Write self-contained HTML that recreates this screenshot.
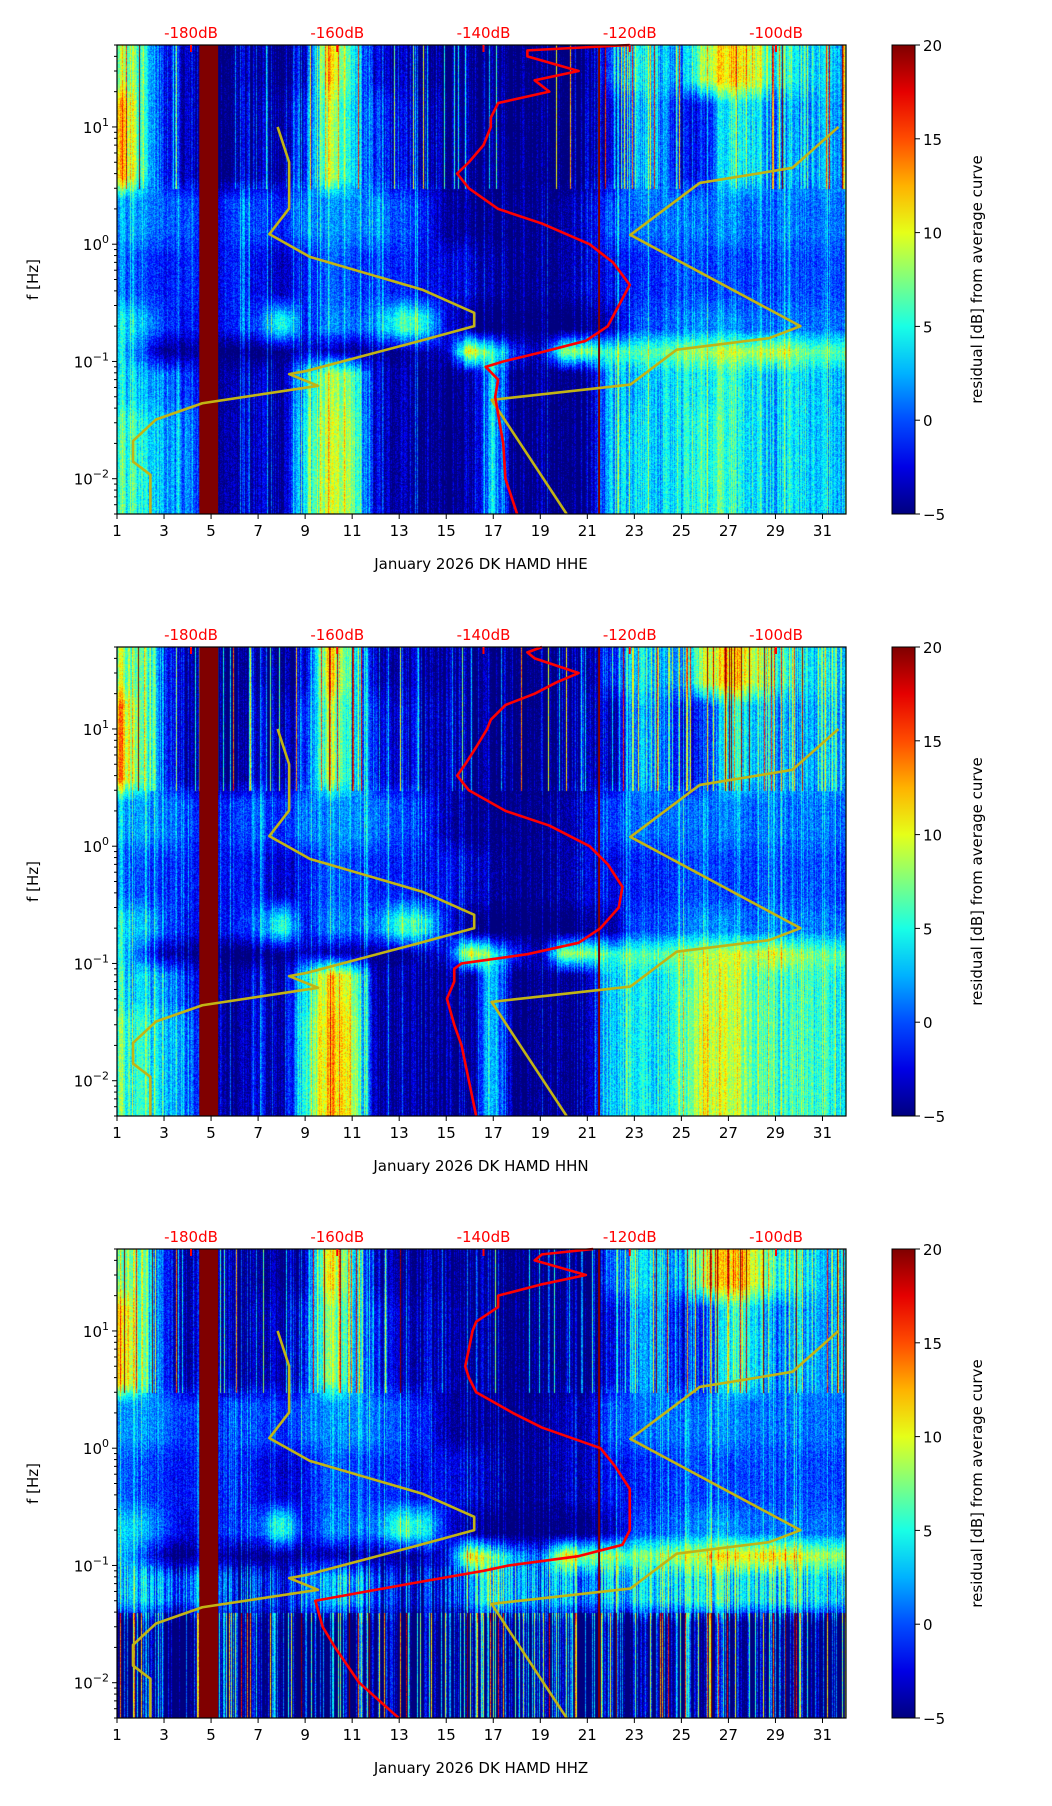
<!DOCTYPE html>
<html><head><meta charset="utf-8">
<style>
body{margin:0;background:#fff;width:1052px;height:1806px;overflow:hidden;font-family:"DejaVu Sans","Liberation Sans",sans-serif}
.wrap{position:absolute;left:0;width:1052px;height:602px}
canvas{position:absolute}
svg{position:absolute;left:0;top:0}
</style></head>
<body>
<div id="root"></div>
<script>
// ---- data ----
const bandNames=["20-50Hz","3-20Hz","1-3Hz","0.3-1Hz","0.15-0.3Hz","0.1-0.15Hz","0.03-0.1Hz","0.005-0.03Hz"];
const bandEdgesLog=[1.699,1.3,0.477,0,-0.52,-0.82,-1.0,-1.4,-2.301];
const p1B0=[8,6,-1,-4,-5,-5,-5,-5,-4,12,5,-4,-4,-5,-5,-5,-5,-6,-6,-6,-6,-1,4,3,1,9,12,10,5,4,3];
const p1B1=[13,6,-1,-4,-5,-5,-4,-4,-2,9,4,-2,-3,-4,-4,-5,-5,-6,-6,-6,-5,-4,2,2,-3,-1,5,4,1,2,2];
const p1B2=[2,2,1,0,-2,0,0,-1,1,2,2,1,0,-1,-4,-5,-5,-5,-5,-4,-3,0,1,1,1,1,2,1,1,1,1];
const p1B3=[1,0,-1,-1,-2,-1,-2,-3,-2,1,0,-1,-1,-2,-2,-3,-4,-5,-5,-4,-3,-2,-1,-1,0,0,0,0,0,0,0];
const p1B4=[4,3,0,-2,-2,-1,0,6,-2,2,1,1,6,5,-2,-5,-6,-6,-6,-6,-5,-4,0,0,1,2,2,1,1,1,1];
const p1B5=[4,0,-5,-5,-5,-6,-6,-5,-4,-4,-5,-5,-5,-4,-3,12,6,-1,-4,10,8,6,7,7,8,9,10,9,10,8,7];
const p1B6=[4,3,2,-1,-3,-4,-3,-4,3,9,7,-4,-4,-5,-5,-5,4,-6,-5,-5,-5,3,3,3,4,5,6,4,3,4,3];
const p1B7=[6,5,3,1,-3,-4,-3,-4,4,10,8,-4,-4,-5,-5,-5,4,-6,-5,-5,-5,3,4,3,4,6,6,4,3,4,3];
const p2B6=[4,3,2,-1,-3,-4,-3,-4,4,12,9,-4,-4,-5,-5,-5,4,-6,-5,-5,-5,4,5,4,6,9,10,7,5,6,5];
const p2B7=[6,5,3,1,-3,-4,-3,-4,5,13,10,-4,-4,-5,-5,-5,4,-6,-5,-5,-5,4,5,4,6,10,10,7,5,6,5];
const p3B5=[4,0,-5,-5,-5,-6,-6,-5,-4,-4,-5,-5,-5,-4,-3,12,7,2,0,11,9,8,8,8,9,10,12,11,12,10,9];
const p3B6=[3,3,1,1,0,-2,-1,-2,1,4,3,-1,-2,-2,-2,2,6,2,1,2,2,3,4,4,4,5,5,4,4,4,4];
const p3B7=[-4,-4,-5,-5,-5,-5,-5,-4,-4,-3,-4,-5,-5,-5,-5,-5,-3,-5,-5,-5,-5,-4,-4,-4,-4,-3,-3,-4,-4,-4,-4];
const panelBands=[
 [p1B0,p1B1,p1B2,p1B3,p1B4,p1B5,p1B6,p1B7],
 [p1B0,p1B1,p1B2,p1B3,p1B4,p1B5,p2B6,p2B7],
 [p1B0,p1B1,p1B2,p1B3,p1B4,p3B5,p3B6,p3B7]];
const streakAmp=[[2,2,1,1,1,1,2,2],[2,2,1,1,1,1,2,2],[2,2,1,1,1,2,4,9]];
const channels=["HHE","HHN","HHZ"];
const redF=[50,45,40,30,25,20,16,12,10,7,5,4,3,2,1.5,1,0.7,0.45,0.3,0.2,0.15,0.12,0.1,0.09,0.07,0.05,0.03,0.02,0.01,0.005];
const redDB1=[-120,-134,-134,-127,-133,-131,-138,-139,-139,-140,-142,-143.6,-142,-138,-132,-125.5,-122.3,-120,-121.5,-123,-126,-132,-137.3,-139.7,-138,-138.4,-137.8,-137.3,-137,-135.4];
const redDB2=[-132,-134,-133,-127,-130,-133,-137,-139,-139.5,-141,-142.5,-143.6,-142,-137,-131,-125.5,-123,-121,-121.5,-124,-127,-134,-143,-144,-144,-145,-144,-143,-142,-141];
const redDB3=[-125,-132,-133,-126,-132,-138,-138,-141,-141.5,-142,-142.5,-142,-141,-136,-132,-124,-122,-120,-120,-120,-121,-127,-136.5,-140,-150,-163,-162,-160.3,-157,-151.6];
const redDB=[redDB1,redDB2,redDB3];
const yelDays=[7.83,8.32,8.32,7.48,9.2,13.97,16.19,16.19,13.73,9.06,8.32,9.55,4.63,2.66,1.68,1.68,2.42,2.42,null,31.68,29.72,25.78,22.83,30.06,28.73,24.8,22.83,16.93,20.12];
const yelF=[10,5,2.02,1.22,0.78,0.41,0.26,0.2,0.147,0.083,0.078,0.062,0.044,0.032,0.021,0.014,0.0108,0.005,null,10,4.48,3.33,1.2,0.2,0.158,0.126,0.0635,0.047,0.005];
const gapStart=4.5, gapEnd=5.3, thinLineDay=21.5;
const dayTicks=[1,3,5,7,9,11,13,15,17,19,21,23,25,27,29,31];
const dbTicks=[-180,-160,-140,-120,-100];
const cbTicks=[20,15,10,5,0,-5];
// ---- geometry ----
const L=117,R=846,T=45,B=514,W=R-L,H=B-T;
const xDay=d=>L+(d-1)*W/31;
const yF=f=>T+(Math.log10(50)-Math.log10(f))*H/(Math.log10(50)-Math.log10(0.005));
const xDB=db=>191+(db+180)*(776-191)/80;
function jet(t){t=Math.max(0,Math.min(1,t));
 const r=Math.max(0,Math.min(1,1.5-Math.abs(4*t-3))),g=Math.max(0,Math.min(1,1.5-Math.abs(4*t-2))),b=Math.max(0,Math.min(1,1.5-Math.abs(4*t-1)));
 return [r*255|0,g*255|0,b*255|0];}
function hash(a,b){let h=(a*374761393+b*668265263)^0x5bd1e995;h=(h^(h>>>13))*1274126177;h=h^(h>>>16);return ((h>>>0)%10000)/10000;}
const NS='http://www.w3.org/2000/svg';
function el(tag,attrs,parent){const e=document.createElementNS(NS,tag);for(const k in attrs)e.setAttribute(k,attrs[k]);parent.appendChild(e);return e;}
const root=document.getElementById('root');
const BW=0.1;
for(let p=0;p<3;p++){
 const wrap=document.createElement('div');wrap.className='wrap';wrap.style.top=(p*602)+'px';
 
 
 root.appendChild(wrap);
 const cv=document.createElement('canvas');cv.width=W;cv.height=H;cv.style.left=L+'px';cv.style.top=T+'px';
 
 
 wrap.appendChild(cv);
 const ctx=cv.getContext('2d');const img=ctx.createImageData(W,H);
 const bands=panelBands[p];
 for(let x=0;x<W;x++){
  const day=1+x*31/W; let di=Math.floor(day-1); let fr=(day-1)-di;
  const d0=Math.max(0,Math.min(30,di)),d1=Math.max(0,Math.min(30,di+1));
  const cs=hash(x,p*7+3)*2-1; const cs2=Math.pow(hash(x,p*11+5),6); const cs3=Math.pow(hash(x,p*13+9),14);
  for(let y=0;y<H;y++){
   const lf=Math.log10(50)-y*(Math.log10(50)-Math.log10(0.005))/H;
   let bi=0;while(bi<7&&lf<bandEdgesLog[bi+1])bi++;
   let v=bands[bi][d0]*(1-fr)+bands[bi][d1]*fr;
   const up=bandEdgesLog[bi]-lf, dn=lf-bandEdgesLog[bi+1];
   if(up<BW&&bi>0){const w=0.5*(1-up/BW);v=v*(1-w)+(bands[bi-1][d0]*(1-fr)+bands[bi-1][d1]*fr)*w;}
   if(dn<BW&&bi<7){const w=0.5*(1-dn/BW);v=v*(1-w)+(bands[bi+1][d0]*(1-fr)+bands[bi+1][d1]*fr)*w;}
   const a=streakAmp[p][bi];
   v+=cs*a+(a>4?cs2*25-3:cs2*5)+(bi<2?cs3*20:0)+(hash(x*3+y,y*7+p)-0.5)*3.5-0.5;
   const c=jet((v+5)/25);const k=(y*W+x)*4;
   img.data[k]=c[0];img.data[k+1]=c[1];img.data[k+2]=c[2];img.data[k+3]=255;
  }
 }
 ctx.putImageData(img,0,0);
 const svg=el('svg',{width:1052,height:602},wrap);
 const gap=el('rect',{x:xDay(gapStart),y:T,width:xDay(gapEnd)-xDay(gapStart),height:H,fill:'#800000'},svg);
 
 
 const tl=el('line',{x1:xDay(thinLineDay),x2:xDay(thinLineDay),y1:T,y2:B,stroke:'#800000','stroke-width':2},svg);
 
 
 let segs=[[]];yelDays.forEach((d,i)=>{if(d===null)segs.push([]);else segs[segs.length-1].push(xDay(d)+','+yF(yelF[i]));});
 segs.forEach(s=>{const pl=el('polyline',{points:s.join(' '),fill:'none',stroke:'#c2b414','stroke-width':2.6,'stroke-linejoin':'round'},svg);
  
  });
 const rp=redF.map((f,i)=>xDB(redDB[p][i])+','+yF(f)).join(' ');
 const red=el('polyline',{points:rp,fill:'none',stroke:'#ff0000','stroke-width':2.6,'stroke-linejoin':'round'},svg);
 
 
 el('rect',{x:L,y:T,width:W,height:H,fill:'none',stroke:'#000','stroke-width':1.2},svg);
 dayTicks.forEach(d=>{el('line',{x1:xDay(d),x2:xDay(d),y1:B,y2:B+5,stroke:'#000'},svg);
  const t=el('text',{x:xDay(d),y:B+22,'text-anchor':'middle','font-size':15},svg);t.textContent=d;
  
  });
 const xl=el('text',{x:481,y:B+55,'text-anchor':'middle','font-size':15},svg);xl.textContent='January 2026 DK HAMD  '+channels[p];
 
 
 dbTicks.forEach(db=>{el('line',{x1:xDB(db),x2:xDB(db),y1:T,y2:T+7,stroke:'#ff0000','stroke-width':2},svg);
  const t=el('text',{x:xDB(db),y:T-7,'text-anchor':'middle','font-size':15,fill:'#ff0000'},svg);t.textContent=db+'dB';
  
  });
 for(let e=-3;e<=1;e++)for(let m=1;m<10;m++){const f=m*Math.pow(10,e);if(f<0.005||f>50)continue;
  const y=yF(f);el('line',{x1:L-(m==1?5:3),x2:L,y1:y,y2:y,stroke:'#000'},svg);
  if(m==1){const t=el('text',{x:L-8,y:y+6,'text-anchor':'end','font-size':15},svg);
   t.innerHTML='10<tspan dy="-7" font-size="11">'+(e<0?'\u2212'+(-e):e)+'</tspan>';
   
   }}
 const yl=el('text',{x:38,y:(T+B)/2,'text-anchor':'middle','font-size':15,transform:'rotate(-90 38 '+(T+B)/2+')'},svg);yl.textContent='f [Hz]';
 
 
 const gid='g'+p;const defs=el('defs',{},svg);const lg=el('linearGradient',{id:gid,x1:0,y1:1,x2:0,y2:0},defs);
 for(let i=0;i<=10;i++){const c=jet(i/10);el('stop',{offset:i/10,'stop-color':'rgb('+c.join(',')+')'},lg);}
 const cb=el('rect',{x:892,y:T,width:23,height:H,fill:'url(#'+gid+')',stroke:'#000','stroke-width':1},svg);
 
 
 cbTicks.forEach(v=>{const y=B-(v+5)/25*H;el('line',{x1:915,x2:920,y1:y,y2:y,stroke:'#000'},svg);
  const t=el('text',{x:923,y:y+6,'font-size':15},svg);t.textContent=v<0?'\u2212'+(-v):v;
  
  });
 const cl=el('text',{x:982,y:(T+B)/2,'text-anchor':'middle','font-size':15,transform:'rotate(-90 982 '+(T+B)/2+')'},svg);cl.textContent='residual [dB] from average curve';
 
 
}
</script>
</body></html>
